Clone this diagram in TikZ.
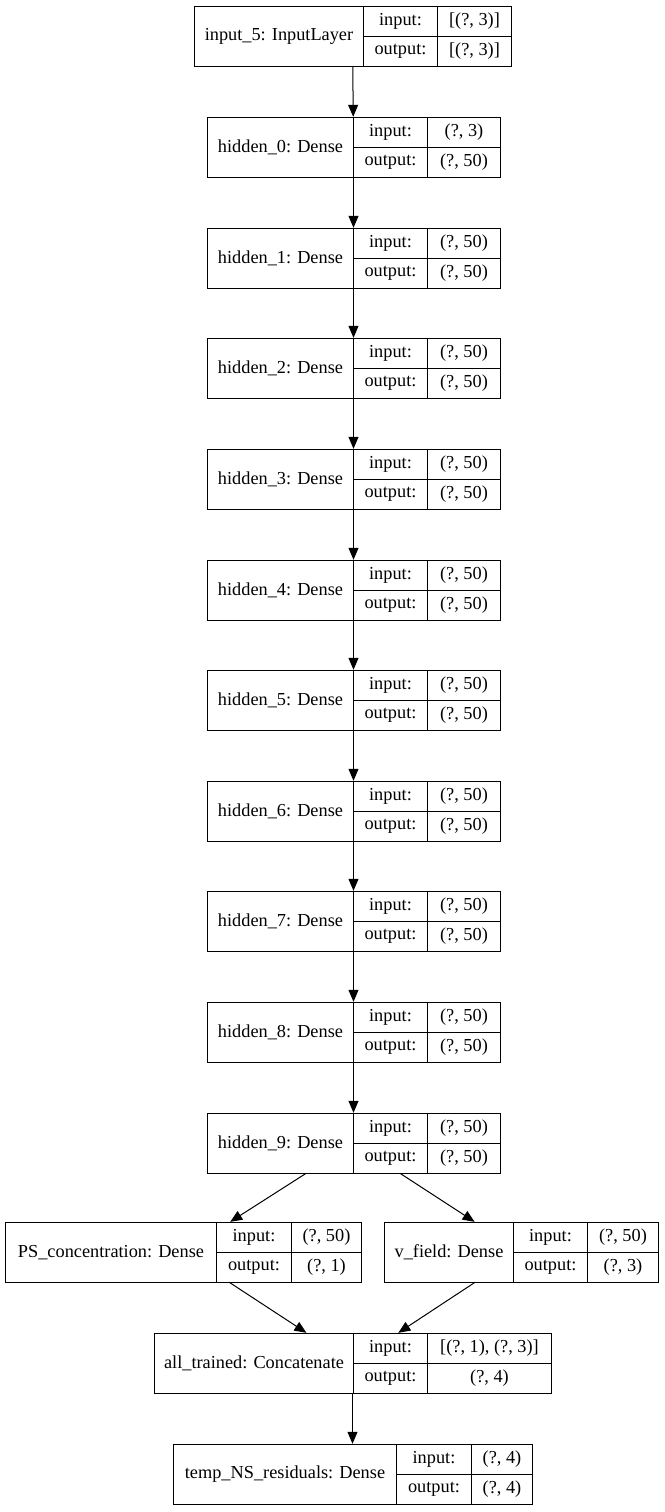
\documentclass[tikz,border=0pt]{standalone}
\usepackage{fontspec}
\setmainfont{Liberation Serif}
\usetikzlibrary{arrows.meta}
\tikzset{
  cellbox/.style={draw=black, line width=1pt, inner sep=0pt, anchor=north west, align=center},
  recbox/.style={inner sep=0pt, minimum height=60pt},
  link/.style={draw=black, line width=1pt, -{Triangle[length=12pt,width=10pt]}},
}
\newcommand{\recnode}[9]{%
  \node[cellbox, minimum width={(#3-#2)*1pt}, minimum height=60pt] (#1-name) at (#2,#6) {#7};
  \node[cellbox, minimum width={(#4-#3)*1pt}, minimum height=30pt] (#1-il) at (#3,#6) {input:};
  \node[cellbox, minimum width={(#4-#3)*1pt}, minimum height=30pt] (#1-ol) at (#3,{#6+30}) {output:};
  \node[cellbox, minimum width={(#5-#4)*1pt}, minimum height=30pt] (#1-iv) at (#4,#6) {#8};
  \node[cellbox, minimum width={(#5-#4)*1pt}, minimum height=30pt] (#1-ov) at (#4,{#6+30}) {#9};
  \node[recbox, minimum width={(#5-#2)*1pt}] (#1) at ({(#2+#5)/2},{#6+30}) {};
}
\begin{document}
\begin{tikzpicture}[x=1pt,y=-1pt,font=\fontsize{18.3}{21}\selectfont]
\useasboundingbox (0,0) rectangle (664,1512);
\recnode{in5}{194}{363}{437}{511}{6}{input\_5: InputLayer}{[(?, 3)]}{[(?, 3)]}
\recnode{h0}{207}{353}{427}{500}{117}{hidden\_0: Dense}{(?, 3)}{(?, 50)}
\recnode{h1}{207}{353}{427}{500}{228}{hidden\_1: Dense}{(?, 50)}{(?, 50)}
\recnode{h2}{207}{353}{427}{500}{338}{hidden\_2: Dense}{(?, 50)}{(?, 50)}
\recnode{h3}{207}{353}{427}{500}{449}{hidden\_3: Dense}{(?, 50)}{(?, 50)}
\recnode{h4}{207}{353}{427}{500}{560}{hidden\_4: Dense}{(?, 50)}{(?, 50)}
\recnode{h5}{207}{353}{427}{500}{670}{hidden\_5: Dense}{(?, 50)}{(?, 50)}
\recnode{h6}{207}{353}{427}{500}{781}{hidden\_6: Dense}{(?, 50)}{(?, 50)}
\recnode{h7}{207}{353}{427}{500}{891}{hidden\_7: Dense}{(?, 50)}{(?, 50)}
\recnode{h8}{207}{353}{427}{500}{1002}{hidden\_8: Dense}{(?, 50)}{(?, 50)}
\recnode{h9}{207}{353}{427}{500}{1113}{hidden\_9: Dense}{(?, 50)}{(?, 50)}
\recnode{ps}{5}{216}{291}{361}{1222}{PS\_concentration: Dense}{(?, 50)}{(?, 1)}
\recnode{vf}{384}{513}{587}{658}{1222}{v\_field: Dense}{(?, 50)}{(?, 3)}
\recnode{at}{154}{353}{427}{551}{1333}{all\_trained: Concatenate}{[(?, 1), (?, 3)]}{(?, 4)}
\recnode{tn}{173}{396}{471}{532}{1444}{temp\_NS\_residuals: Dense}{(?, 4)}{(?, 4)}
\draw[link] (in5) -- (h0);
\draw[link] (h0) -- (h1);
\draw[link] (h1) -- (h2);
\draw[link] (h2) -- (h3);
\draw[link] (h3) -- (h4);
\draw[link] (h4) -- (h5);
\draw[link] (h5) -- (h6);
\draw[link] (h6) -- (h7);
\draw[link] (h7) -- (h8);
\draw[link] (h8) -- (h9);
\draw[link] (h9) -- (ps);
\draw[link] (h9) -- (vf);
\draw[link] (ps) -- (at);
\draw[link] (vf) -- (at);
\draw[link] (at) -- (tn);
\end{tikzpicture}
\end{document}
